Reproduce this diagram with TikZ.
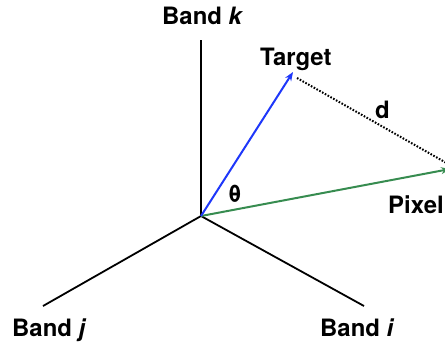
\documentclass[tikz,border=0pt]{standalone}
\usepackage{fontspec}
\setmainfont{TeX Gyre Heros}
\usetikzlibrary{arrows.meta}
\definecolor{vblue}{RGB}{30,55,250}
\definecolor{vgreen}{RGB}{55,140,80}
\tikzset{
  axis/.style={line width=1.8bp, black},
  lbl/.style={font=\fontsize{24}{28}\selectfont\bfseries, inner sep=0pt, anchor=base west},
  vec/.style={line width=2bp, -{Stealth[length=9bp,width=7bp]}}
}
\begin{document}
\begin{tikzpicture}[x=1bp,y=-1bp]
\useasboundingbox (0,0) rectangle (445,345);
\clip (0,0) rectangle (445,345);
\coordinate (o) at (201,216);
\coordinate (k) at (201,40);
\coordinate (j) at (43,306);
\coordinate (i) at (364,306);
\coordinate (t) at (293,72);
\coordinate (p) at (450,169);
\coordinate (ds) at (297,78);
\coordinate (de) at (450,165);
\draw[axis] (o) -- (k);
\draw[axis] (o) -- (j);
\draw[axis] (o) -- (i);
\draw[vec, vgreen] (o) -- (p);
\draw[vec, vblue] (o) -- (t);
\draw[line width=2bp, dash pattern=on 1.6bp off 1.6bp] (ds) -- (de);
\node[lbl] (lk) at (162,24) {Band \textit{k}};
\node[lbl] (lj) at (12,336) {Band \textit{j}};
\node[lbl] (li) at (320,336) {Band \textit{i}};
\node[lbl] (lt) at (260,65) {Target};
\node[lbl] (ld) at (375,118) {d};
\node[lbl] (lp) at (388,213) {Pixel};
\node[lbl] (lth) at (228,202) {θ};
\end{tikzpicture}
\end{document}
